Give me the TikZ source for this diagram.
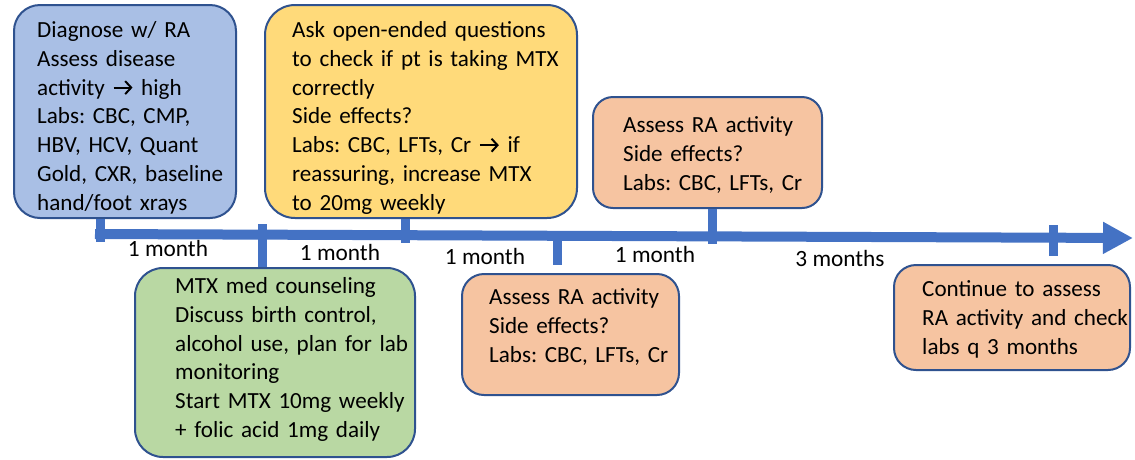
\documentclass[tikz,border=0pt]{standalone}
\usepackage{fontspec}
\setmainfont{Carlito}
\usetikzlibrary{arrows.meta}
\newcommand\rarr{\tikz[x=1pt,y=1pt,baseline=0pt]\draw[line width=2pt, line cap=butt, -{Straight Barb[length=6pt,width=13pt,line width=2pt]}] (0,7.5) -- (19,7.5);}
\definecolor{tlblue}{HTML}{4472C4}
\definecolor{boxline}{HTML}{2F528F}
\definecolor{blueF}{HTML}{A9BFE5}
\definecolor{yellowF}{HTML}{FFDA7A}
\definecolor{greenF}{HTML}{B9D8A3}
\definecolor{orangeF}{HTML}{F6C4A1}
\frenchspacing
\begin{document}
\begin{tikzpicture}[x=1pt,y=-1pt,
  box/.style={draw=boxline, line width=2pt, inner sep=0pt},
  txt/.style={anchor=base west, align=left, text width=330pt, inner sep=0pt, font=\fontsize{23.1}{28.8}\selectfont},
  lbl/.style={anchor=base, inner sep=0pt, font=\fontsize{23.3}{28.8}\selectfont},
  tl/.style={draw=tlblue, line width=10pt},
  tick/.style={draw=tlblue, line width=9pt}]
\useasboundingbox (0,0) rectangle (1135,459);

% boxes
\node[box, fill=blueF, rounded corners=26pt, minimum width=222pt, minimum height=213pt] (diag) at (125,111.5) {};
\node[box, fill=yellowF, rounded corners=30pt, minimum width=312pt, minimum height=213pt] (ask) at (421,111.5) {};
\node[box, fill=orangeF, rounded corners=20pt, minimum width=229pt, minimum height=111pt] (ra1) at (707.5,152.5) {};
\node[box, fill=greenF, rounded corners=28pt, minimum width=280pt, minimum height=189pt] (mtx) at (275,362.5) {};
\node[box, fill=orangeF, rounded corners=22pt, minimum width=217pt, minimum height=121pt] (ra0) at (570.5,334.5) {};
\node[box, fill=orangeF, rounded corners=22pt, minimum width=236pt, minimum height=105pt] (cont) at (1012,317.5) {};

% texts
\node[txt] (tdiag) at (37,37.5) {Diagnose w/ RA\\Assess disease\\activity \rarr{} high\\Labs: CBC, CMP,\\HBV, HCV, Quant\\Gold, CXR, baseline\\hand/foot xrays};
\node[txt] (task) at (292,37.5) {Ask open-ended questions\\to check if pt is taking MTX\\correctly\\Side effects?\\Labs: CBC, LFTs, Cr \rarr{} if\\reassuring, increase MTX\\to 20mg weekly};
\node[txt] (tra1) at (623,132.5) {Assess RA activity\\Side effects?\\Labs: CBC, LFTs, Cr};
\node[txt] (tmtx) at (175,293.5) {MTX med counseling\\Discuss birth control,\\alcohol use, plan for lab\\monitoring\\Start MTX 10mg weekly\\+ folic acid 1mg daily};
\node[txt] (tra0) at (489,304.5) {Assess RA activity\\Side effects?\\Labs: CBC, LFTs, Cr};
\node[txt] (tcont) at (922,296.5) {Continue to assess\\RA activity and check\\labs q 3 months};

% timeline
\coordinate (start) at (95,234);
\coordinate (tip) at (1133,238);
\draw[tl, -{Triangle[length=30pt, width=30pt]}] (start) -- (tip);

\coordinate (m1) at (100,242);
\coordinate (m2) at (262,224);
\coordinate (m3) at (405,243);
\coordinate (m4) at (557,234);
\coordinate (m5) at (712,244);
\coordinate (m6) at (1053,225);
\draw[tick] (diag.south -| m1) -- (m1);
\draw[tick] (m2) -- (mtx.north -| m2);
\draw[tick] (ask.south -| m3) -- (m3);
\draw[tick] (m4) -- ([yshift=8pt]ra0.north -| m4);
\draw[tick] (ra1.south -| m5) -- (m5);
\draw[tick] (m6) -- ([yshift=8pt]cont.north -| m6);

% interval labels
\node[lbl] (l1) at (168,256.5) {1 month};
\node[lbl] (l2) at (340,260.5) {1 month};
\node[lbl] (l3) at (485,264.5) {1 month};
\node[lbl] (l4) at (655,262.5) {1 month};
\node[lbl] (l5) at (840,266.5) {3 months};
\end{tikzpicture}
\end{document}
